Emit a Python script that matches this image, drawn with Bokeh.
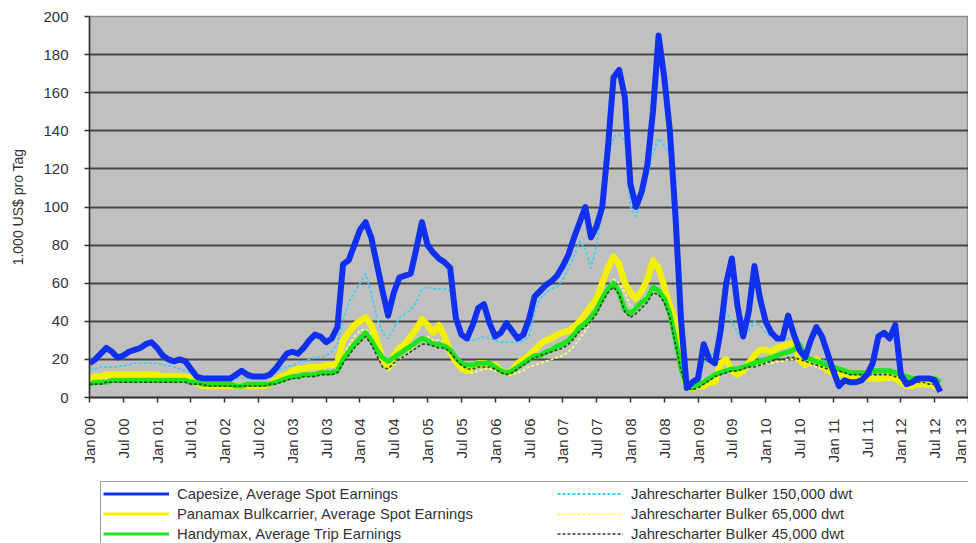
import math
from bokeh.plotting import figure
from bokeh.layouts import column
from bokeh.models import Range1d, FixedTicker, Legend, LegendItem
from bokeh.embed import file_html
from bokeh.resources import INLINE

tick_labels = ["Jan 00", "Jul 00", "Jan 01", "Jul 01", "Jan 02", "Jul 02", "Jan 03", "Jul 03",
               "Jan 04", "Jul 04", "Jan 05", "Jul 05", "Jan 06", "Jul 06", "Jan 07", "Jul 07",
               "Jan 08", "Jul 08", "Jan 09", "Jul 09", "Jan 10", "Jul 10", "Jan 11", "Jul 11",
               "Jan 12", "Jul 12", "Jan 13"]
y_ticks = [0, 20, 40, 60, 80, 100, 120, 140, 160, 180, 200]

# monthly values, Jan 2000 .. Aug 2012 (1.000 US$ pro Tag)
capesize = [
    18, 20, 23, 26, 24, 21, 22, 24, 25, 26, 28, 29,
    26, 22, 20, 19, 20, 19, 15, 11, 10, 10, 10, 10,
    10, 10, 12, 14, 12, 11, 11, 11, 12, 15, 19, 23,
    24, 23, 26, 30, 33, 32, 29, 31, 37, 70, 72, 80,
    88, 92, 84, 70, 56, 43, 55, 63, 64, 65, 78, 92,
    80, 76, 73, 71, 68, 42, 33, 31, 38, 47, 49, 39,
    32, 34, 39, 35, 31, 33, 41, 53, 56, 59, 61, 64,
    69, 75, 84, 92, 100, 84, 90, 100, 131, 168, 172, 158,
    112, 100, 108, 122, 150, 190, 168, 140, 95, 40, 5, 8,
    10, 28, 20, 18, 35, 60, 73, 48, 32, 45, 69, 52,
    40, 34, 31, 31, 43, 33, 25, 21, 30, 37, 32, 23,
    14, 6, 9, 8, 8, 9, 12, 18, 32, 34, 31, 38,
    12, 7, 8, 10, 10, 10, 9, 3,
]
panamax = [
    10, 11, 11, 12, 12, 12, 12, 12, 12, 12, 12, 12,
    12, 11, 11, 11, 11, 11, 10, 8, 6, 6, 6, 6,
    6, 6, 6, 6, 6, 6, 6, 6, 7, 9, 11, 12,
    14, 15, 15, 16, 16, 16, 17, 17, 18, 30, 34, 38,
    40, 42, 38, 30, 20, 16, 22, 26, 28, 32, 36, 41,
    38, 34, 38, 32, 24, 19, 15, 14, 16, 18, 18, 17,
    17, 14, 13, 14, 18, 20, 22, 25, 28, 30, 31, 33,
    34, 35, 37, 40, 44, 48, 52, 60, 68, 74, 70, 60,
    55, 52, 56, 62, 72, 68, 58, 48, 40, 20, 6, 5,
    6, 6, 8, 8, 18, 20, 14, 12, 14, 18, 22, 25,
    25, 24, 26, 27, 28, 29, 20, 17, 19, 20, 17, 14,
    13, 12, 12, 11, 11, 10, 10, 10, 10, 10, 11, 10,
    8, 6, 6, 7, 7, 7, 6, 5,
]
handymax = [
    7, 8, 8, 8, 9, 9, 9, 9, 9, 9, 9, 9,
    9, 9, 9, 9, 9, 9, 8, 8, 7, 7, 7, 7,
    7, 7, 6, 6, 7, 7, 7, 7, 7, 8, 9, 10,
    11, 11, 12, 12, 12, 13, 13, 13, 14, 20, 24, 28,
    31, 34, 30, 25, 21, 19, 21, 23, 25, 27, 29, 31,
    30, 28, 28, 27, 25, 21, 18, 17, 17, 18, 18, 18,
    16, 14, 13, 14, 16, 18, 20, 22, 22, 24, 25, 27,
    28, 30, 33, 37, 39, 42, 46, 52, 57, 60, 55, 46,
    44, 47, 50, 52, 58, 56, 52, 44, 30, 15, 6, 5,
    7, 8, 10, 12, 13, 14, 15, 15, 16, 17, 18, 19,
    20, 21, 22, 23, 24, 25, 28, 22, 20, 19, 18, 17,
    16, 15, 14, 13, 13, 13, 13, 14, 14, 14, 14, 13,
    12, 11, 10, 10, 10, 10, 10, 8,
]
tc_150k = [
    15, 15, 16, 16, 16, 16, 17, 17, 18, 18, 18, 18,
    18, 17, 17, 16, 15, 14, 13, 12, 11, 10, 10, 10,
    10, 10, 10, 10, 10, 10, 10, 11, 12, 14, 15, 16,
    17, 18, 19, 20, 21, 21, 22, 24, 28, 40, 50, 55,
    60, 65, 55, 42, 34, 31, 36, 42, 44, 46, 50, 57,
    58, 57, 57, 57, 56, 45, 34, 30, 30, 31, 32, 31,
    30, 29, 29, 29, 29, 30, 32, 45, 52, 55, 57, 58,
    62, 68, 74, 82, 78, 68, 80, 100, 125, 137, 138, 135,
    100, 95, 105, 116, 128, 136, 132, 128, 80, 40, 8, 6,
    10, 18, 20, 25, 35, 45, 40, 34, 32, 35, 40, 38,
    34, 32, 31, 30, 31, 29, 24, 22, 21, 21, 20, 18,
    16, 15, 14, 13, 13, 13, 13, 13, 14, 14, 15, 14,
    12, 11, 10, 9, 8, 8, 8, 7,
]
tc_65k = [
    9, 9, 10, 10, 10, 11, 11, 11, 11, 11, 11, 11,
    11, 10, 10, 10, 10, 9, 8, 7, 6, 5, 5, 5,
    5, 5, 5, 5, 5, 5, 6, 6, 6, 7, 8, 10,
    11, 12, 12, 13, 13, 13, 14, 14, 15, 22, 27, 32,
    35, 36, 33, 26, 18, 14, 17, 20, 22, 25, 28, 30,
    32, 30, 30, 29, 26, 20, 16, 13, 13, 14, 15, 15,
    14, 13, 12, 12, 13, 14, 16, 17, 18, 19, 20, 21,
    22, 24, 27, 31, 35, 40, 45, 52, 58, 62, 60, 55,
    48, 46, 50, 54, 58, 56, 50, 42, 30, 15, 6, 5,
    6, 7, 9, 11, 13, 14, 14, 14, 15, 16, 17, 17,
    18, 18, 19, 19, 20, 20, 19, 18, 17, 16, 15, 14,
    13, 12, 11, 11, 10, 10, 10, 10, 10, 10, 9, 9,
    8, 7, 6, 6, 6, 6, 5, 5,
]
tc_45k = [
    7, 7, 7, 8, 8, 8, 8, 8, 8, 8, 8, 8,
    8, 8, 8, 8, 8, 8, 7, 7, 7, 6, 6, 6,
    6, 6, 6, 6, 6, 6, 6, 6, 7, 7, 8, 9,
    10, 10, 11, 11, 11, 12, 12, 12, 13, 18, 22, 26,
    29, 32, 28, 22, 16, 15, 18, 20, 22, 24, 26, 28,
    28, 27, 26, 26, 24, 20, 17, 15, 15, 16, 16, 16,
    15, 13, 12, 13, 15, 17, 19, 21, 22, 23, 24, 25,
    26, 28, 31, 35, 37, 40, 44, 50, 55, 58, 54, 45,
    42, 44, 47, 50, 55, 54, 50, 42, 28, 14, 5, 4,
    5, 7, 9, 11, 12, 13, 14, 14, 15, 16, 16, 17,
    18, 19, 20, 20, 21, 21, 20, 19, 18, 17, 16, 15,
    14, 14, 13, 12, 12, 12, 12, 12, 12, 12, 12, 11,
    10, 9, 8, 8, 8, 7, 7, 6,
]

series = [
    # (label, values, colour, chart width, legend width, dash) in drawing order
    ("Jahrescharter Bulker 150,000 dwt", tc_150k, "#3ccdf7", 1.8, 1.8, "3 2"),
    ("Jahrescharter Bulker 65,000 dwt", tc_65k, "#ffff70", 1.8, 1.8, "3 2"),
    ("Panamax Bulkcarrier, Average Spot Earnings", panamax, "#f2f200", 6.5, 3.2, "solid"),
    ("Handymax, Average Trip Earnings", handymax, "#1ee41e", 5, 3.2, "solid"),
    ("Jahrescharter Bulker 45,000 dwt", tc_45k, "#1d4a1d", 1.6, 1.6, "3 2"),
    ("Capesize, Average Spot Earnings", capesize, "#1030f0", 6, 3.2, "solid"),
]
legend_order = ["Capesize, Average Spot Earnings",
                "Panamax Bulkcarrier, Average Spot Earnings",
                "Handymax, Average Trip Earnings",
                "Jahrescharter Bulker 150,000 dwt",
                "Jahrescharter Bulker 65,000 dwt",
                "Jahrescharter Bulker 45,000 dwt"]

FONT = "Liberation Sans"
TXT = "#333333"
FRAME_LEFT = 89

p = figure(width=968, height=475, x_range=Range1d(0, 156), y_range=Range1d(0, 200),
           output_backend="svg", toolbar_location=None,
           min_border_left=FRAME_LEFT, min_border_top=16, min_border_right=0,
           min_border_bottom=78)
p.background_fill_color = "#c0c0c0"
p.border_fill_color = "white"
p.outline_line_color = "#8c8c8c"
p.outline_line_width = 1.5

p.yaxis.ticker = FixedTicker(ticks=y_ticks)
p.yaxis.axis_label = "1.000 US$ pro Tag"
p.yaxis.axis_label_text_font = FONT
p.yaxis.axis_label_text_font_style = "normal"
p.yaxis.axis_label_text_font_size = "14px"
p.yaxis.axis_label_text_color = TXT
p.yaxis.axis_label_standoff = 14
p.yaxis.major_label_text_font = FONT
p.yaxis.major_label_text_font_size = "15px"
p.yaxis.major_label_text_color = TXT
p.yaxis.major_label_standoff = 16
p.yaxis.major_tick_out = 5
p.yaxis.major_tick_in = 0
p.yaxis.minor_tick_out = 0
p.yaxis.axis_line_color = "#333333"
p.yaxis.axis_line_width = 1.5
p.yaxis.major_tick_line_color = "#333333"
p.yaxis.major_tick_line_width = 1.5

x_tick_pos = [6 * i for i in range(len(tick_labels))]
p.xaxis.ticker = FixedTicker(ticks=x_tick_pos)
p.xaxis.major_label_overrides = {t: lab for t, lab in zip(x_tick_pos, tick_labels)}
p.xaxis.major_label_orientation = math.pi / 2
p.xaxis.major_label_text_font = FONT
p.xaxis.major_label_text_font_size = "15px"
p.xaxis.major_label_text_color = TXT
p.xaxis.major_label_standoff = 16
p.xaxis.major_tick_out = 5
p.xaxis.major_tick_in = 0
p.xaxis.minor_tick_out = 0
p.xaxis.axis_line_color = "#333333"
p.xaxis.axis_line_width = 2
p.xaxis.major_tick_line_color = "#333333"
p.xaxis.major_tick_line_width = 1.5

p.xgrid.visible = False
p.ygrid.ticker = FixedTicker(ticks=y_ticks[1:-1])
p.ygrid.grid_line_color = "#474747"
p.ygrid.grid_line_width = 2.2

# legend strip below the chart (its own small canvas, same line styles;
# its sample lines lie outside its visible range)
p2 = figure(width=968, height=68, x_range=Range1d(0, 1), y_range=Range1d(0, 1),
            output_backend="svg", toolbar_location=None, min_border=0,
            x_axis_location=None, y_axis_location=None)
p2.outline_line_color = None
p2.grid.visible = False
p2.background_fill_color = "white"
p2.border_fill_color = "white"

legend_renderers = {}
for label, vals, color, w_chart, w_leg, dash in series:
    p.line(x=list(range(len(vals))), y=vals, line_color=color, line_width=w_chart,
           line_dash=dash, line_join="round")
    legend_renderers[label] = p2.line(x=[-3, -2], y=[-3, -2], line_color=color,
                                      line_width=w_leg, line_dash=dash)

PAD = 2
ROW_H = 19
SPACING = 1
leg_h = 2 * PAD + 3 * ROW_H + 2 * SPACING
legend = Legend(items=[LegendItem(label=lab, renderers=[legend_renderers[lab]])
                       for lab in legend_order],
                ncols=2, orientation="vertical",
                location=(100 - FRAME_LEFT, 68 - 8 - leg_h))
legend.padding = PAD
legend.spacing = SPACING
legend.margin = 0
legend.glyph_width = 66
legend.glyph_height = ROW_H
legend.label_height = ROW_H
legend.label_width = 379
legend.label_standoff = 8
legend.label_text_font = FONT
legend.label_text_font_size = "14.8px"
legend.label_text_color = TXT
legend.border_line_color = "#3a3a3a"
legend.border_line_width = 1.5
legend.background_fill_color = "white"
legend.background_fill_alpha = 1
p2.add_layout(legend, "center")

open("out.html", "w").write(file_html(column(p, p2), INLINE))
